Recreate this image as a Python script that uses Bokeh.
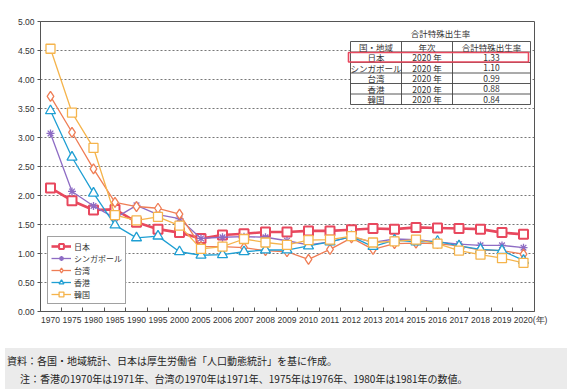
from bokeh.plotting import figure
from bokeh.models import (Range1d, FixedTicker, Legend, LegendItem, Div,
                          NumeralTickFormatter, ColumnDataSource)
from bokeh.layouts import column
from bokeh.core.properties import value
from bokeh.embed import file_html
from bokeh.resources import INLINE

# ---------------- data ----------------
years = ["1970", "1975", "1980", "1985", "1990", "1995", "2000", "2005", "2006",
         "2007", "2008", "2009", "2010", "2011", "2012", "2013", "2014", "2015",
         "2016", "2017", "2018", "2019", "2020"]
japan = [2.13, 1.91, 1.75, 1.76, 1.54, 1.42, 1.36, 1.26, 1.32, 1.34, 1.37, 1.37,
         1.39, 1.39, 1.41, 1.43, 1.42, 1.45, 1.44, 1.43, 1.42, 1.36, 1.33]
singapore = [3.07, 2.07, 1.82, 1.61, 1.83, 1.67, 1.60, 1.26, 1.28, 1.29, 1.28, 1.22,
             1.15, 1.20, 1.29, 1.19, 1.25, 1.24, 1.20, 1.16, 1.14, 1.14, 1.10]
taiwan = [3.71, 3.09, 2.46, 1.88, 1.81, 1.78, 1.68, 1.12, 1.12, 1.10, 1.05, 1.03,
          0.90, 1.07, 1.27, 1.07, 1.17, 1.18, 1.17, 1.13, 1.06, 1.05, 0.99]
hongkong = [3.46, 2.66, 2.04, 1.49, 1.27, 1.30, 1.03, 0.97, 0.98, 1.03, 1.06, 1.06,
            1.13, 1.20, 1.29, 1.12, 1.23, 1.20, 1.21, 1.13, 1.07, 1.05, 0.88]
korea = [4.53, 3.43, 2.82, 1.66, 1.57, 1.63, 1.48, 1.08, 1.12, 1.25, 1.19, 1.15,
         1.23, 1.24, 1.30, 1.19, 1.21, 1.24, 1.17, 1.05, 0.98, 0.92, 0.84]
names = ["日本", "シンガポール", "台湾", "香港", "韓国"]
y_ticks = [0.0, 0.5, 1.0, 1.5, 2.0, 2.5, 3.0, 3.5, 4.0, 4.5, 5.0]
x_unit = "(年)"
table_title = "合計特殊出生率"
table_header = ["国・地域", "年次", "合計特殊出生率"]
table_year = "2020 年"
note1 = "資料：各国・地域統計、日本は厚生労働省「人口動態統計」を基に作成。"
note2 = "注：香港の1970年は1971年、台湾の1970年は1971年、1975年は1976年、1980年は1981年の数値。"

series = [japan, singapore, taiwan, hongkong, korea]
colors = ["#e8485e", "#8e6cc4", "#ef7d55", "#1f9fd3", "#f5b44c"]
markers = ["square", "asterisk", "diamond", "triangle", "square"]
msizes = [9, 8, 10, 10, 9]
leg_msizes = [7, 7, 8, 8, 7]
lwidths = [2.6, 1.3, 1.3, 1.3, 1.3]
mlw = [2.0, 1.3, 1.3, 1.3, 1.3]

JP = "Noto Sans CJK JP"
NUM = "Liberation Sans"

# ---------------- geometry (page pixels) ----------------
FIG_W, FIG_H = 566, 343
FR_L, FR_T, FR_W, FR_H = 40, 21, 494, 290
PX_PER_CAT = 21.5
X0 = -0.465
x_end = X0 + FR_W / PX_PER_CAT


def X(px):
    return X0 + (px - FR_L) / PX_PER_CAT


def Y(py):
    return 5.0 - (py - FR_T) * 5.0 / FR_H


p = figure(width=FIG_W, height=FIG_H, output_backend="svg", toolbar_location=None,
           x_range=Range1d(X0, x_end), y_range=Range1d(0, 5),
           min_border_left=FR_L, min_border_right=FIG_W - FR_L - FR_W,
           min_border_top=FR_T, min_border_bottom=FIG_H - FR_T - FR_H)
p.background_fill_color = "white"
p.border_fill_color = "white"
p.outline_line_color = "#555555"
p.outline_line_width = 1

n = len(years)
xs = list(range(n))

# axes
labels = {i: y for i, y in enumerate(years)}
labels[n - 1] = "\u2007\u2007\u2007" + years[-1] + x_unit
p.xaxis.ticker = FixedTicker(ticks=xs, minor_ticks=[i + 0.5 for i in range(n - 1)])
p.xaxis.major_label_overrides = labels
p.xaxis.major_tick_line_color = None
p.xaxis.major_tick_out = 0
p.xaxis.major_tick_in = 0
p.xaxis.minor_tick_in = 4
p.xaxis.minor_tick_out = 0
p.xaxis.minor_tick_line_color = "#555555"
p.xaxis.axis_line_color = "#555555"
p.xaxis.major_label_text_font = NUM
p.xaxis.major_label_text_font_size = "8.5px"
p.xaxis.major_label_text_color = "#333333"
p.xaxis.major_label_standoff = 3

p.yaxis.ticker = FixedTicker(ticks=y_ticks, minor_ticks=[])
p.yaxis.formatter = NumeralTickFormatter(format="0.00")
p.yaxis.major_tick_out = 3
p.yaxis.major_tick_in = 0
p.yaxis.major_tick_line_color = "#555555"
p.yaxis.axis_line_color = "#555555"
p.yaxis.major_label_text_font = NUM
p.yaxis.major_label_text_font_size = "8.5px"
p.yaxis.major_label_text_color = "#333333"
p.yaxis.major_label_standoff = 3

p.xgrid.grid_line_color = None
p.ygrid.ticker = FixedTicker(ticks=y_ticks)
p.ygrid.grid_line_color = "#777777"
p.ygrid.grid_line_dash = "2 2"
p.ygrid.grid_line_width = 1

# series
items = []
nan = float("nan")
for name, vals, c, m, ms, lms, lw, mw in zip(names, series, colors, markers, msizes,
                                              leg_msizes, lwidths, mlw):
    src = ColumnDataSource(dict(x=xs, y=vals))
    ln = p.line("x", "y", source=src, line_color=c, line_width=lw)
    p.scatter("x", "y", source=src, marker=m, size=ms, line_color=c,
              fill_color="white", line_width=mw)
    # legend-only marker (smaller, as in the original key); not drawn on the plot
    key = p.scatter(x=[nan], y=[nan], marker=m, size=lms, line_color=c,
                    fill_color="white", line_width=mw)
    items.append(LegendItem(label=name, renderers=[ln, key]))

legend = Legend(items=items, location=(7, 7), margin=0, padding=3, spacing=0,
                glyph_width=20, glyph_height=12, label_height=12, label_standoff=3,
                label_text_font=JP, label_text_font_size="8px",
                label_text_color="#333333", border_line_color="#444444",
                border_line_width=1, background_fill_color="white",
                background_fill_alpha=1.0)
p.add_layout(legend)

# ---------------- table ----------------
col_px = [350, 401, 452, 530]
row_top = 41
row_h = 10.5
n_rows = 1 + len(names)
row_px = [row_top + i * row_h for i in range(n_rows + 1)]

p.quad(left=[X(col_px[0])], right=[X(col_px[-1])], top=[Y(row_px[0])],
       bottom=[Y(row_px[-1])], fill_color="white", line_color="#444444", line_width=0.9)
p.segment(x0=[X(cx) for cx in col_px[1:-1]], x1=[X(cx) for cx in col_px[1:-1]],
          y0=[Y(row_px[0])] * 2, y1=[Y(row_px[-1])] * 2, line_color="#444444",
          line_width=0.9)
p.segment(x0=[X(col_px[0])] * (n_rows - 1), x1=[X(col_px[-1])] * (n_rows - 1),
          y0=[Y(r) for r in row_px[1:-1]], y1=[Y(r) for r in row_px[1:-1]],
          line_color="#444444", line_width=0.9)

cell_x, cell_y, cell_t = [], [], []
rows = [table_header] + [[nm, table_year, f"{vals[-1]:.2f}"] for nm, vals in zip(names, series)]
for ri, row in enumerate(rows):
    cy = Y((row_px[ri] + row_px[ri + 1]) / 2)
    for ci, t in enumerate(row):
        cell_x.append(X((col_px[ci] + col_px[ci + 1]) / 2))
        cell_y.append(cy)
        cell_t.append(t)
p.text(x=cell_x, y=cell_y, text=cell_t, text_align="center", text_baseline="middle",
       text_font=value(JP), text_font_size="8.5px", text_color="#333333")
p.text(x=[X(440)], y=[Y(32)], text=[table_title], text_align="center",
       text_baseline="middle", text_font=value(JP), text_font_size="8.5px",
       text_color="#333333")
# highlight of the Japan row
p.quad(left=[X(348)], right=[X(528)], top=[Y(row_px[1] + 0.5)], bottom=[Y(row_px[2] - 0.5)],
       fill_color=None, line_color="#e8485e", line_width=1.6)

# ---------------- footnote ----------------
line_css = "position:absolute;line-height:14px;height:14px;white-space:nowrap;"
div = Div(text=(f'<div style="{line_css}top:6px;left:2px;">{note1}</div>'
                f'<div style="{line_css}top:24px;left:15px;">{note2}</div>'),
          width=FIG_W, height=45,
          styles={"background-color": "#ebebeb", "font-family": JP,
                  "font-size": "10px", "color": "#222222", "overflow": "hidden",
                  "position": "relative"})

layout = column(p, div, spacing=0)
open("out.html", "w").write(file_html(layout, INLINE))
